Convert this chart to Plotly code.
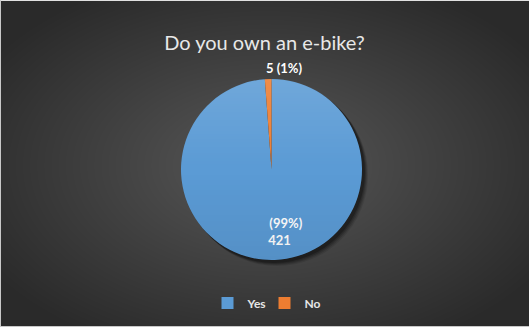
import base64
import struct
import zlib

import numpy as np
import plotly.graph_objects as go

# Survey answers
answers = ["Yes", "No"]
counts = [421, 5]
slice_colors = ["#5B9BD5", "#ED7D31"]

W, H = 529, 327
NBSP = "\u00a0"


def png_uri(img):
    """Encode an RGB or RGBA uint8 array as a PNG data URI."""
    h, w, ch = img.shape
    raw = b"".join(b"\x00" + img[r].tobytes() for r in range(h))

    def chunk(tag, data):
        c = struct.pack(">I", len(data)) + tag + data
        return c + struct.pack(">I", zlib.crc32(tag + data) & 0xFFFFFFFF)

    ctype = 6 if ch == 4 else 2
    png = (b"\x89PNG\r\n\x1a\n"
           + chunk(b"IHDR", struct.pack(">IIBBBBB", w, h, 8, ctype, 0, 0, 0))
           + chunk(b"IDAT", zlib.compress(raw, 9))
           + chunk(b"IEND", b""))
    return "data:image/png;base64," + base64.b64encode(png).decode()


def radial_bg(w, h, cx, cy, inner, outer):
    yy, xx = np.mgrid[0:h, 0:w]
    d = np.sqrt(((xx - cx) / (w * 0.62)) ** 2 + ((yy - cy) / (h * 0.62)) ** 2)
    t = np.clip(d, 0, 1)[..., None]
    img = (np.array(inner) * (1 - t) + np.array(outer) * t).astype(np.uint8)
    # thin light frame along the edges
    img[0, :] = (225, 225, 225)
    img[-1, :] = (200, 200, 200)
    img[:, 0] = (200, 200, 200)
    return png_uri(img)


def pie_sheen(size):
    """Transparent overlay: light at the top of the disc, darker at the bottom."""
    n = size * 4
    yy, xx = np.mgrid[0:n, 0:n]
    c = (n - 1) / 2
    d = np.sqrt((xx - c) ** 2 + (yy - c) ** 2) / (n / 2)
    cover = np.clip((1 - d) * size * 0.5 + 0.5, 0, 1)
    t = yy / (n - 1)
    light = np.clip(0.5 - t, 0, 1) * 0.26
    dark = np.clip(t - 0.5, 0, 1) * 0.14
    rgb = np.zeros((n, n, 3))
    rgb[..., :] = np.where((light > dark)[..., None], 255.0, 0.0)
    alpha = np.maximum(light, dark) * cover
    img = np.dstack([rgb, alpha[..., None] * 255]).astype(np.uint8)
    return png_uri(img)


bg = radial_bg(W, H, 265, 165, (88, 88, 88), (42, 42, 42))

total = sum(counts)
pcts = [round(100 * c / total) for c in counts]

# "Yes" label sits inside its slice; "No" label is placed above the thin slice
inside_text = [
    f"{NBSP}<br>{NBSP}<br>{NBSP * 8}({pcts[0]}%)<br>{NBSP * 8}{counts[0]}{NBSP * 4}",
    "",
]
no_label = f"{counts[1]} ({pcts[1]}%)"

# pie geometry (paper fractions)
cx, cy, r = 271.5, 169.5, 90.5
dom_x = [(cx - r) / W, (cx + r) / W]
dom_y = [1 - (cy + r) / H, 1 - (cy - r) / H]

fig = go.Figure()
fig.add_trace(go.Pie(
    labels=answers,
    values=counts,
    text=inside_text,
    textinfo="text",
    textposition=["inside", "none"],
    insidetextorientation="horizontal",
    sort=False,
    direction="clockwise",
    rotation=0,
    marker=dict(colors=slice_colors, line=dict(width=0)),
    textfont=dict(family="Lato, sans-serif", size=13, color="#FFFFFF", weight="bold"),
    domain=dict(x=dom_x, y=dom_y),
    hoverinfo="label+value+percent",
))

# soft shadow under the pie
shadow = []
for i, op in enumerate([0.10, 0.14, 0.18, 0.25]):
    off = 5 - i
    shadow.append(dict(
        type="circle", xref="paper", yref="paper", layer="below",
        x0=(cx - r + off) / W, x1=(cx + r + off + 1) / W,
        y0=1 - (cy + r + off + 1) / H, y1=1 - (cy - r + off) / H,
        fillcolor=f"rgba(0,0,0,{op})", line=dict(width=0),
    ))

fig.add_annotation(
    text=no_label, xref="paper", yref="paper",
    x=(cx + 12) / W, y=1 - (cy - r - 11) / H,
    xanchor="center", yanchor="middle", showarrow=False,
    font=dict(family="Lato, sans-serif", size=13, color="#FFFFFF", weight="bold"),
)

fig.update_layout(
    width=W, height=H,
    margin=dict(l=0, r=0, t=0, b=0),
    paper_bgcolor="#3a3a3a",
    plot_bgcolor="rgba(0,0,0,0)",
    images=[
        dict(source=bg, xref="paper", yref="paper", x=0, y=1,
             sizex=1, sizey=1, sizing="stretch", layer="below"),
        dict(source=pie_sheen(int(2 * r)), xref="paper", yref="paper",
             x=dom_x[0], y=dom_y[1], sizex=dom_x[1] - dom_x[0],
             sizey=dom_y[1] - dom_y[0], sizing="stretch", layer="above"),
    ],
    shapes=shadow,
    title=dict(text="Do you own an e-bike?", x=0.5, xanchor="center",
               y=1 - 43 / H, yanchor="middle",
               font=dict(family="Lato, sans-serif", size=20, color="#E8E8E8")),
    legend=dict(orientation="h", x=0.50, xanchor="center", y=1 - 303 / H,
                yanchor="middle", bgcolor="rgba(0,0,0,0)",
                font=dict(family="Lato, sans-serif", size=12, color="#E6E6E6", weight="bold"),
                itemwidth=30, entrywidth=12, traceorder="normal"),
    showlegend=True,
)

fig.write_html("out.html")
